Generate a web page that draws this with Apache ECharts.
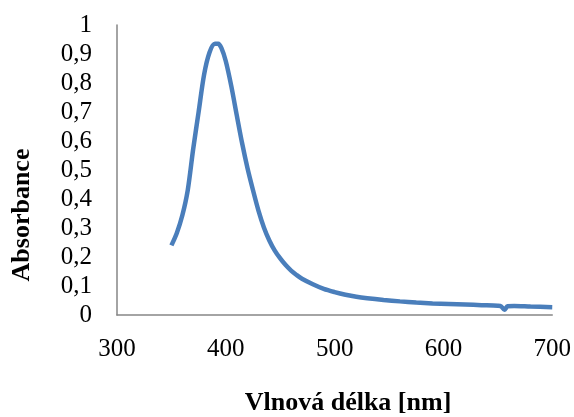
<!DOCTYPE html>
<html>
<head>
<meta charset="utf-8">
<script src="https://cdn.jsdelivr.net/npm/echarts@6/dist/echarts.min.js"></script>
<style>
html,body{margin:0;padding:0;background:#fff;}
#chart{width:574px;height:417px;}
</style>
</head>
<body>
<div id="chart"></div>
<script>
// Data
var wavelengths = [350,355,360,365,370,375,380,385,390,393,396,400,405,410,415,420,425,430,435,440,445,450,455,460,465,470,480,490,500,510,520,530,545,560,575,590,605,620,635,650,653,656,659,665,680,700];
var absorbance  = [0.24,0.283,0.343,0.43,0.572,0.70,0.828,0.905,0.935,0.935,0.92,0.875,0.79,0.69,0.592,0.505,0.43,0.36,0.302,0.257,0.222,0.195,0.172,0.153,0.138,0.125,0.106,0.09,0.079,0.07,0.063,0.058,0.052,0.047,0.043,0.040,0.038,0.036,0.034,0.032,0.030,0.018,0.030,0.031,0.029,0.027];
var xTicks = [300,400,500,600,700];
var yTicks = ['0','0,1','0,2','0,3','0,4','0,5','0,6','0,7','0,8','0,9','1'];
var xTitle = 'Vlnová délka [nm]';
var yTitle = 'Absorbance';

var points = wavelengths.map(function(w,i){return [w, absorbance[i]];});
var font = '"Liberation Serif", "Times New Roman", serif';
var chart = echarts.init(document.getElementById('chart'), null, {renderer:'canvas'});
chart.setOption({
  animation:false,
  backgroundColor:'#ffffff',
  grid:{left:117,right:19,top:25,bottom:102,containLabel:false},
  xAxis:{
    type:'value', min:xTicks[0], max:xTicks[xTicks.length-1], interval:100,
    axisLine:{show:true,onZero:false,lineStyle:{color:'#868686',width:1.5}},
    axisTick:{show:false},
    splitLine:{show:false},
    axisLabel:{margin:22,color:'#000',fontFamily:font,fontSize:25}
  },
  yAxis:{
    type:'value', min:0, max:1, interval:0.1,
    axisLine:{show:true,lineStyle:{color:'#868686',width:1.5}},
    axisTick:{show:false},
    splitLine:{show:false},
    axisLabel:{margin:25,color:'#000',fontFamily:font,fontSize:25,
      formatter:function(v){return yTicks[Math.round(v*10)];}}
  },
  graphic:[
    {type:'text',x:22,y:215,rotation:Math.PI/2,
     style:{text:yTitle,fontFamily:font,fontWeight:'bold',fontSize:26,fill:'#000',textAlign:'center',textVerticalAlign:'middle'}},
    {type:'text',x:348,y:403,
     style:{text:xTitle,fontFamily:font,fontWeight:'bold',fontSize:26,fill:'#000',textAlign:'center',textVerticalAlign:'middle'}}
  ],
  series:[{
    type:'line', data:points, showSymbol:false, smooth:0.3,
    lineStyle:{color:'#4a7ebb',width:4.5}
  }]
});
</script>
</body>
</html>
